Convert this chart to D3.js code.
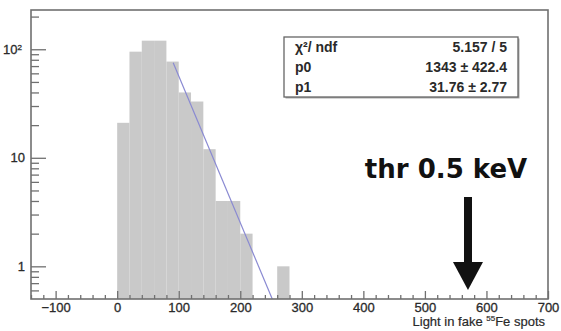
<!DOCTYPE html>
<html>
<head>
<meta charset="utf-8">
<script src="https://cdn.jsdelivr.net/npm/d3@7"></script>
<style>
  body { margin: 0; background: #fff; }
  svg { display: block; }
</style>
</head>
<body>
<svg id="chart" width="561" height="331"></svg>
<script>
// histogram: 20-unit bins starting at 0
const binLow = [0, 20, 40, 60, 80, 100, 120, 140, 160, 180, 200, 220, 240, 260];
const counts = [21, 95, 120, 120, 77, 40, 33, 12, 4, 4, 2, 0, 0, 1];
const binWidth = 20;

// fit line end points (x, y)
const fitX = [91, 252];
const fitY = [75, 0.5];

const xMajor = [-100, 0, 100, 200, 300, 400, 500, 600, 700];
const yMajor = [1, 10, 100];
const yMinor = [0.6, 0.7, 0.8, 0.9, 2, 3, 4, 5, 6, 7, 8, 9, 20, 30, 40, 50, 60, 70, 80, 90, 200];

const statNames = ['χ²/ ndf', 'p0', 'p1'];
const statValues = ['5.157 / 5', '1343 ± 422.4', '31.76 ± 2.77'];

const thrLabel = 'thr 0.5 keV';
const thrValue = 570;

const width = 561, height = 331;
const margin = { top: 10, right: 13, bottom: 32, left: 31 };
const font = 'Liberation Sans, Arial, sans-serif';

const svg = d3.select('#chart');

const x = d3.scaleLinear()
  .domain([-140, 700])
  .range([margin.left, width - margin.right]);

const y = d3.scaleLog()
  .domain([0.5, 230])
  .range([height - margin.bottom, margin.top]);

// bars
svg.append('g')
  .attr('fill', '#c9c9c9')
  .selectAll('rect')
  .data(binLow.map((b, i) => ({ lo: b, n: counts[i] })).filter(d => d.n > 0))
  .join('rect')
    .attr('x', d => x(d.lo))
    .attr('width', d => x(d.lo + binWidth) - x(d.lo))
    .attr('y', d => y(d.n))
    .attr('height', d => y(0.5) - y(d.n));

// fit
svg.append('path')
  .datum(fitX.map((v, i) => [v, fitY[i]]))
  .attr('fill', 'none')
  .attr('stroke', '#8a8ad2')
  .attr('stroke-width', 1.2)
  .attr('d', d3.line().x(d => x(d[0])).y(d => y(d[1])));

// x axis
const xMinor = d3.range(-140, 701, 20).filter(v => v % 100 !== 0);
svg.append('g')
  .attr('transform', `translate(0,${y(0.5)})`)
  .call(d3.axisBottom(x).tickValues(xMinor).tickSize(-4).tickFormat(''))
  .call(g => g.select('.domain').remove());

const xAxis = svg.append('g')
  .attr('transform', `translate(0,${y(0.5)})`)
  .call(d3.axisBottom(x).tickValues(xMajor).tickSize(-8).tickPadding(4)
    .tickFormat(d => d < 0 ? '−' + Math.abs(d) : d));
xAxis.select('.domain').remove();

// y axis
svg.append('g')
  .attr('transform', `translate(${margin.left},0)`)
  .call(d3.axisLeft(y).tickValues(yMinor).tickSize(-8).tickFormat(''))
  .call(g => g.select('.domain').remove());

const yAxis = svg.append('g')
  .attr('transform', `translate(${margin.left},0)`)
  .call(d3.axisLeft(y).tickValues(yMajor).tickSize(-15).tickPadding(6).tickFormat(d => d === 100 ? '10' : d));
yAxis.select('.domain').remove();
yAxis.selectAll('.tick').filter(d => d === 100).select('text')
  .attr('dx', -3)
  .append('tspan').attr('dy', '-0.45em').attr('font-size', 8).text('2');

svg.selectAll('.tick line').attr('stroke', '#707070').attr('stroke-width', 1.3);
svg.selectAll('.tick text')
  .attr('font-family', font).attr('font-size', 13).attr('fill', '#2a2a2a')
  .attr('stroke', '#2a2a2a').attr('stroke-width', 0.3);

// frame
svg.append('rect')
  .attr('x', margin.left).attr('y', margin.top)
  .attr('width', width - margin.right - margin.left)
  .attr('height', height - margin.bottom - margin.top)
  .attr('fill', 'none').attr('stroke', '#707070').attr('stroke-width', 1.6);

// x title
const xt = svg.append('text')
  .attr('x', 545).attr('y', 326)
  .attr('text-anchor', 'end')
  .attr('font-family', font).attr('font-size', 13).attr('fill', '#2a2a2a')
  .attr('stroke', '#2a2a2a').attr('stroke-width', 0.2);
xt.append('tspan').text('Light in fake ');
xt.append('tspan').attr('dy', -5).attr('font-size', 8).text('55');
xt.append('tspan').attr('dy', 5).text('Fe spots');

// stats box
const box = { x: 284, y: 37, w: 234, h: 60 };
svg.append('rect')
  .attr('x', box.x + 1.5).attr('y', box.y + 1.5).attr('width', box.w).attr('height', box.h)
  .attr('fill', '#aaa');
svg.append('rect')
  .attr('x', box.x).attr('y', box.y).attr('width', box.w).attr('height', box.h)
  .attr('fill', '#fff').attr('stroke', '#666').attr('stroke-width', 1.3);
statNames.forEach((s, i) => {
  svg.append('text')
    .attr('x', box.x + 11).attr('y', box.y + 15 + i * 20)
    .attr('font-family', font).attr('font-size', 14).attr('font-weight', 'bold').attr('fill', '#2a2a2a')
    .text(s);
  svg.append('text')
    .attr('x', box.x + box.w - 11).attr('y', box.y + 15 + i * 20)
    .attr('text-anchor', 'end')
    .attr('font-family', font).attr('font-size', 14).attr('font-weight', 'bold').attr('fill', '#2a2a2a')
    .text(statValues[i]);
});

// threshold annotation
svg.append('text')
  .attr('x', 446).attr('y', 178)
  .attr('text-anchor', 'middle')
  .attr('font-family', 'DejaVu Sans, sans-serif').attr('font-size', 26).attr('font-weight', 'bold')
  .attr('fill', '#111')
  .text(thrLabel);

const ax = x(thrValue);
svg.append('line')
  .attr('x1', ax).attr('x2', ax).attr('y1', 197).attr('y2', 266)
  .attr('stroke', '#111').attr('stroke-width', 8);
svg.append('path')
  .attr('d', `M${ax - 15},262 L${ax + 15},262 L${ax},290 Z`)
  .attr('fill', '#111');
</script>
</body>
</html>
